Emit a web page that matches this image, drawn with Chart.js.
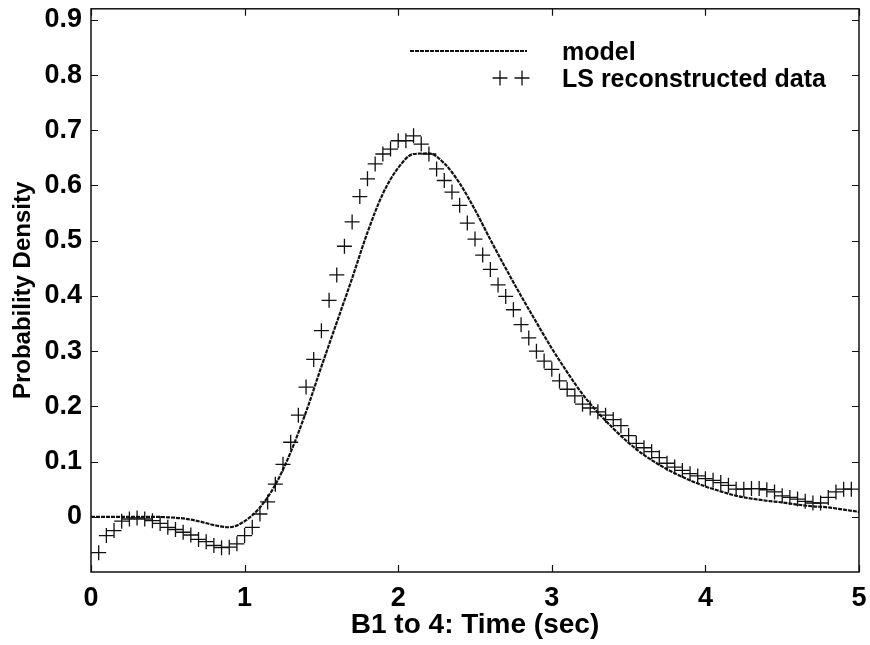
<!DOCTYPE html>
<html>
<head>
<meta charset="utf-8">
<script src="https://cdn.jsdelivr.net/npm/chart.js@4/dist/chart.umd.min.js"></script>
<style>
html,body{margin:0;padding:0;background:#fff;}
#wrap{width:870px;height:645px;}
</style>
</head>
<body>
<div id="wrap"><canvas id="c" width="870" height="645"></canvas></div>
<script>
// ---- data ----
const modelTimes = [0.0,0.1,0.2,0.3,0.4,0.5,0.6,0.7,0.8,0.9,1.0,1.1,1.2,1.3,1.4,1.5,1.6,1.7,1.8,1.9,2.0,2.1,2.2,2.3,2.4,2.5,2.6,2.7,2.8,2.9,3.0,3.1,3.2,3.3,3.4,3.5,3.6,3.7,3.8,3.9,4.0,4.1,4.2,4.3,4.4,4.5,4.6,4.7,4.8,4.9,5.0];
const modelValues = [0,0,0,0,0,-0.001,-0.003,-0.008,-0.015,-0.019,-0.008,0.017,0.058,0.117,0.19,0.272,0.352,0.432,0.515,0.585,0.632,0.657,0.658,0.64,0.604,0.556,0.502,0.45,0.4,0.352,0.305,0.262,0.222,0.189,0.16,0.134,0.112,0.094,0.079,0.066,0.055,0.046,0.038,0.033,0.029,0.026,0.022,0.019,0.017,0.013,0.009];

const dataTimes = [0.05,0.10,0.15,0.20,0.25,0.30,0.35,0.40,0.45,0.50,0.55,0.60,0.65,0.70,0.75,0.80,0.85,0.90,0.95,1.00,1.05,1.10,1.15,1.20,1.25,1.30,1.35,1.40,1.45,1.50,1.55,1.60,1.65,1.70,1.75,1.80,1.85,1.90,1.95,2.00,2.05,2.10,2.15,2.20,2.25,2.30,2.35,2.40,2.45,2.50,2.55,2.60,2.65,2.70,2.75,2.80,2.85,2.90,2.95,3.00,3.05,3.10,3.15,3.20,3.25,3.30,3.35,3.40,3.45,3.50,3.55,3.60,3.65,3.70,3.75,3.80,3.85,3.90,3.95,4.00,4.05,4.10,4.15,4.20,4.25,4.30,4.35,4.40,4.45,4.50,4.55,4.60,4.65,4.70,4.75,4.80,4.85,4.90,4.95];
const dataValues = [-0.065,-0.034,-0.025,-0.008,-0.004,-0.002,-0.004,-0.007,-0.012,-0.019,-0.023,-0.028,-0.033,-0.041,-0.045,-0.052,-0.056,-0.055,-0.049,-0.034,-0.019,0.005,0.027,0.059,0.095,0.135,0.184,0.235,0.285,0.337,0.392,0.438,0.49,0.534,0.58,0.612,0.639,0.657,0.666,0.681,0.681,0.69,0.675,0.657,0.63,0.609,0.588,0.564,0.532,0.503,0.474,0.448,0.42,0.399,0.375,0.348,0.324,0.30,0.282,0.267,0.246,0.231,0.219,0.204,0.197,0.19,0.184,0.176,0.165,0.147,0.133,0.125,0.118,0.107,0.097,0.09,0.084,0.078,0.074,0.069,0.066,0.062,0.057,0.05,0.05,0.051,0.051,0.049,0.045,0.038,0.035,0.032,0.028,0.025,0.025,0.035,0.045,0.05,0.05];

const xTickValues = [0,1,2,3,4,5];
const xTickLabels = ['0','1','2','3','4','5'];
const yTickValues = [0,0.1,0.2,0.3,0.4,0.5,0.6,0.7,0.8,0.9];
const yTickLabels = ['0','0.1','0.2','0.3','0.4','0.5','0.6','0.7','0.8','0.9'];

const seriesNames = ['model','LS reconstructed data'];
const xTitle = 'B1 to 4: Time (sec)';
const yTitle = 'Probability Density';

// ---- build ----
const modelPts = modelTimes.map((t,i)=>({x:t,y:modelValues[i]}));
const dataPts = dataTimes.map((t,i)=>({x:t,y:dataValues[i]}));

const FONT = "'Liberation Sans', Arial, Helvetica, sans-serif";

function noScalePadding(s){
  s.paddingTop = 0; s.paddingBottom = 0; s.paddingLeft = 0; s.paddingRight = 0;
}

const framePlugin = {
  id:'frame',
  afterDatasetsDraw(chart){
    const {ctx, chartArea:{left,right,top,bottom}, scales:{x,y}} = chart;
    ctx.save();
    ctx.strokeStyle = '#111';
    ctx.lineWidth = 1.5;
    ctx.strokeRect(left, top, right-left, bottom-top);
    ctx.lineWidth = 1.2;
    ctx.beginPath();
    x.ticks.forEach(t=>{
      const px = Math.round(x.getPixelForValue(t.value))+0.5;
      ctx.moveTo(px,bottom); ctx.lineTo(px,bottom-7);
      ctx.moveTo(px,top); ctx.lineTo(px,top+7);
    });
    y.ticks.forEach(t=>{
      const py = Math.round(y.getPixelForValue(t.value))+0.5;
      ctx.moveTo(left,py); ctx.lineTo(left+7,py);
      ctx.moveTo(right,py); ctx.lineTo(right-7,py);
    });
    ctx.stroke();
    ctx.restore();
  }
};

const legendPlugin = {
  id:'customLegend',
  afterDraw(chart){
    const ctx = chart.ctx;
    ctx.save();
    ctx.strokeStyle = '#111';
    ctx.lineWidth = 2.2;
    ctx.setLineDash([4,1]);
    ctx.beginPath();
    ctx.moveTo(410,51); ctx.lineTo(527,51);
    ctx.stroke();
    ctx.setLineDash([]);
    ctx.lineWidth = 1.3;
    [500,522].forEach(cx=>{
      ctx.beginPath();
      ctx.moveTo(cx-7.5,78); ctx.lineTo(cx+7.5,78);
      ctx.moveTo(cx,70.5); ctx.lineTo(cx,85.5);
      ctx.stroke();
    });
    ctx.fillStyle = '#000';
    ctx.font = "bold 25px " + FONT;
    ctx.textBaseline = 'middle';
    ctx.textAlign = 'left';
    ctx.fillText(seriesNames[0], 562, 53);
    ctx.fillText(seriesNames[1], 562, 80);
    ctx.restore();
  }
};

new Chart(document.getElementById('c'), {
  type:'scatter',
  data:{
    datasets:[
      {
        label: seriesNames[0],
        data: modelPts,
        showLine: true,
        borderColor:'#111',
        borderWidth:2.2,
        borderDash:[4,1],
        pointRadius:0,
        cubicInterpolationMode:'monotone',
        fill:false,
        order:2
      },
      {
        label: seriesNames[1],
        data: dataPts,
        showLine:false,
        pointStyle:'cross',
        pointRadius:7.5,
        pointBorderWidth:1.3,
        borderColor:'#111',
        backgroundColor:'rgba(0,0,0,0)',
        clip:10,
        order:1
      }
    ]
  },
  options:{
    responsive:false,
    animation:false,
    devicePixelRatio:1,
    layout:{padding:{left:0,right:11,top:8,bottom:0}},
    plugins:{legend:{display:false}, tooltip:{enabled:false}},
    scales:{
      x:{
        type:'linear', min:0, max:5,
        afterBuildTicks: s => { s.ticks = xTickValues.map(v=>({value:v})); },
        afterFit: s => { s.height = 73; noScalePadding(s); },
        ticks:{
          callback:(v,i)=>xTickLabels[i],
          font:{family:FONT, size:27, weight:'bold'},
          color:'#000', padding:10, maxRotation:0, autoSkip:false
        },
        grid:{display:true, drawOnChartArea:false, drawTicks:false, color:'rgba(0,0,0,0)'},
        border:{display:false},
        title:{display:true, text:xTitle, color:'#000',
          font:{family:FONT, size:28, weight:'bold'}, padding:{top:0,bottom:3}}
      },
      y:{
        type:'linear', min:-0.1, max:0.92,
        afterBuildTicks: s => { s.ticks = yTickValues.map(v=>({value:v})); },
        afterFit: s => { s.width = 91; noScalePadding(s); },
        ticks:{
          callback:(v,i)=>yTickLabels[i],
          font:{family:FONT, size:27, weight:'bold'},
          color:'#000', padding:9, autoSkip:false
        },
        grid:{display:true, drawOnChartArea:false, drawTicks:false, color:'rgba(0,0,0,0)'},
        border:{display:false},
        title:{display:true, text:yTitle, color:'#000',
          font:{family:FONT, size:24, weight:'bold'}, padding:{top:9,bottom:0}}
      }
    }
  },
  plugins:[framePlugin, legendPlugin]
});
</script>
</body>
</html>
